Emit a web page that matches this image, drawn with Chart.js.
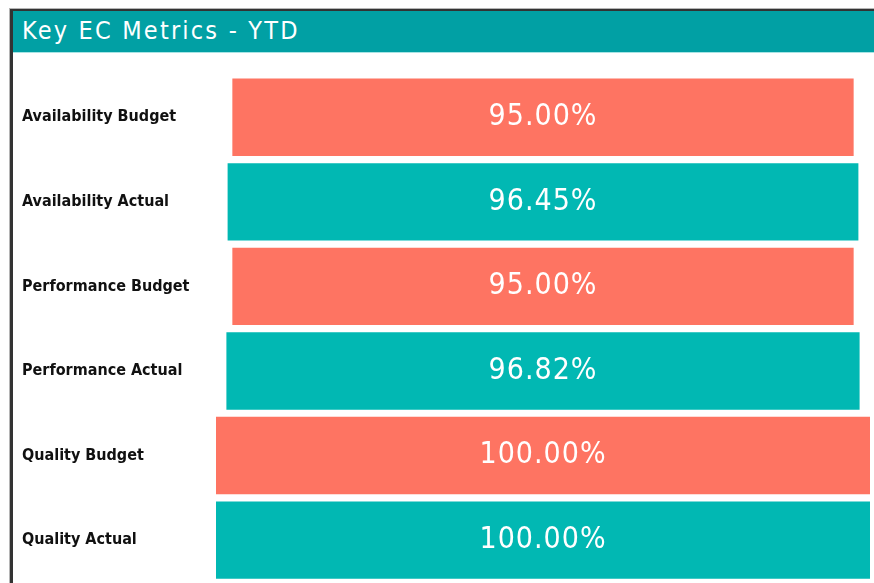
<!DOCTYPE html>
<html>
<head>
<meta charset="utf-8">
<script src="https://cdn.jsdelivr.net/npm/chart.js@4"></script>
<style>
  html, body { margin: 0; padding: 0; background: #fff; overflow: hidden; }
  body { width: 874px; height: 583px; position: relative; }
  .frame-outer {
    position: absolute; left: 9px; top: 8px; width: 900px; height: 600px;
    border-left: 1px solid #b5b5b5; border-top: 1px solid #b5b5b5;
  }
  .frame {
    position: absolute; left: 0; top: 0; width: 900px; height: 600px;
    border-left: 3px solid #333; border-top: 2px solid #333;
  }
  .header {
    position: absolute; left: 0; top: 0; width: 900px; height: 42px;
    background: #01a0a4; border-bottom: 1px solid #a8e4e4;
    color: #fff; font-family: "DejaVu Sans Condensed", "DejaVu Sans", sans-serif;
    font-size: 25px; letter-spacing: 2.2px; line-height: 40px; padding-left: 9px; box-sizing: border-box;
  }
  .chart-box { position: absolute; left: 14px; top: 56px; width: 860px; height: 539px; }
</style>
</head>
<body>
<div class="frame-outer"><div class="frame"><div class="header">Key EC Metrics - YTD</div></div></div>
<div class="chart-box"><canvas id="funnel"></canvas></div>
<script>
const categories = ['Availability Budget', 'Availability Actual', 'Performance Budget', 'Performance Actual', 'Quality Budget', 'Quality Actual'];
const values = [95.00, 96.45, 95.00, 96.82, 100.00, 100.00];
const barColors = ['#fe7462', '#01b8b3', '#fe7462', '#01b8b3', '#fe7462', '#01b8b3'];

// funnel: each bar is centred on 0, half the value each side
const funnelData = values.map(v => [-v / 2, v / 2]);

const valueLabels = {
  id: 'valueLabels',
  afterDatasetsDraw(chart) {
    const ctx = chart.ctx;
    const meta = chart.getDatasetMeta(0);
    ctx.save();
    ctx.fillStyle = '#fff';
    ctx.font = '30px "DejaVu Sans Condensed", "DejaVu Sans", sans-serif';
    ctx.letterSpacing = '1px';
    ctx.textAlign = 'center';
    ctx.textBaseline = 'middle';
    meta.data.forEach((bar, i) => {
      const cx = (bar.x + bar.base) / 2;
      ctx.fillText(values[i].toFixed(2) + '%', cx, bar.y);
    });
    ctx.restore();
  }
};

const funnelConfig = {
  type: 'bar',
  data: {
    labels: categories,
    datasets: [{
      label: 'Key EC Metrics',
      data: funnelData,
      backgroundColor: barColors,
      borderWidth: 0,
      barPercentage: 0.915,
      categoryPercentage: 1
    }]
  },
  options: {
    indexAxis: 'y',
    responsive: true,
    maintainAspectRatio: false,
    animation: false,
    plugins: {
      legend: { display: false },
      tooltip: { enabled: false }
    },
    layout: {
      padding: { top: 19, bottom: 0, left: 8, right: 4 }
    },
    scales: {
      x: { display: false, min: -50, max: 50 },
      y: {
        grid: { display: false },
        border: { display: false },
        ticks: {
          color: '#111',
          crossAlign: 'far',
          font: { family: '"DejaVu Sans Condensed", "DejaVu Sans", sans-serif', size: 16, weight: 'bold' }
        },
        afterFit(scale) { scale.width = 194; }
      }
    }
  },
  plugins: [valueLabels]
};

new Chart(document.getElementById('funnel'), funnelConfig);
</script>
</body>
</html>
